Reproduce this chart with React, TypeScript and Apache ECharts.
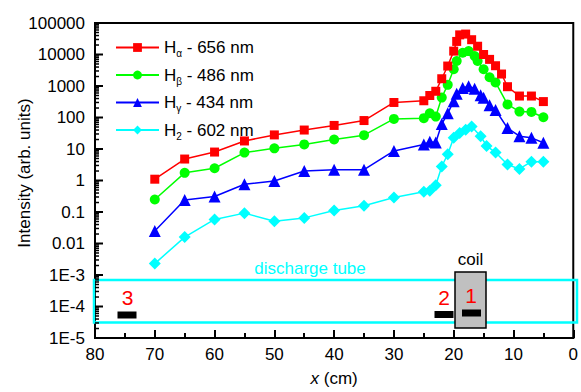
import React, { useEffect, useRef } from "react";
import * as echarts from "echarts";

const FONT = "'Liberation Sans', Arial, sans-serif";

// Series names (the second character is drawn as a subscript in the legend)
const SERIES_NAMES = ["Hα - 656 nm", "Hβ - 486 nm", "Hγ - 434 nm", "H2 - 602 nm"];
const SERIES_COLORS = ["#ff0000", "#00ff00", "#0000ff", "#00ffff"];
const SERIES_SYMBOLS = ["rect", "circle", "triangle", "diamond"];
const SERIES_SYMBOL_SIZES = [9, 10, 12, 12];

// Position along the tube (cm) and measured intensity (arb. units)
const H_ALPHA_X = [70, 65, 60, 55, 50, 45, 40, 35, 30, 25, 24, 23, 22, 21, 20, 19.5, 19, 18, 17, 16, 15, 14, 13, 12, 11, 9, 7, 5];
const H_ALPHA_Y = [1.1, 4.8, 8, 18, 28, 40, 56, 80, 300, 340, 500, 680, 1700, 4300, 12800, 26000, 42000, 44500, 29500, 18300, 10000, 7000, 4400, 2400, 950, 480, 480, 320];

const H_BETA_X = [70, 65, 60, 55, 50, 45, 40, 35, 30, 25, 24, 23, 22, 21, 20, 19.5, 18.5, 17.5, 16.5, 16, 15, 14, 13, 11, 9, 7, 5];
const H_BETA_Y = [0.25, 1.75, 2.45, 7.7, 10.5, 14, 20, 27.5, 90, 95, 136, 107, 430, 1090, 3400, 6200, 11400, 12800, 8900, 6200, 3400, 1900, 1300, 260, 154, 150, 102];

const H_GAMMA_X = [70, 65, 60, 55, 50, 45, 40, 35, 30, 25, 24, 23, 22, 21, 20, 19.5, 18.5, 17.5, 16.5, 15.5, 15, 14, 13, 11, 9, 7, 5];
const H_GAMMA_Y = [0.025, 0.24, 0.31, 0.76, 0.96, 2.0, 2.2, 2.2, 8.7, 14, 17, 16, 62, 136, 330, 570, 860, 990, 820, 506, 420, 247, 173, 46, 25.6, 22.6, 15.8];

const H2_X = [70, 65, 60, 55, 50, 45, 40, 35, 30, 25, 24, 23, 22, 21, 20, 19, 18, 17, 15.5, 14.5, 13, 11, 9, 7, 5];
const H2_Y = [0.0023, 0.016, 0.058, 0.092, 0.051, 0.065, 0.112, 0.157, 0.29, 0.44, 0.47, 0.71, 2.8, 6.8, 22.6, 32, 41, 52, 25.6, 12.5, 7.7, 3.2, 2.33, 3.96, 3.96];

const SERIES_X = [H_ALPHA_X, H_BETA_X, H_GAMMA_X, H2_X];
const SERIES_Y = [H_ALPHA_Y, H_BETA_Y, H_GAMMA_Y, H2_Y];

// Axis ticks
const X_MIN = 0;
const X_MAX = 80;
const X_INTERVAL = 10;
const Y_MIN = 1e-5;
const Y_MAX = 1e5;
const Y_DECADES = [1e-5, 1e-4, 1e-3, 0.01, 0.1, 1, 10, 100, 1000, 10000, 100000];
const Y_MINOR: number[] = [];
for (let i = 0; i < Y_DECADES.length - 1; i++) {
  for (let m = 2; m <= 9; m++) Y_MINOR.push(+(Y_DECADES[i] * m).toPrecision(3));
}

function formatDecade(v: number): string {
  const e = Math.round(Math.log10(v));
  if (e <= -3) return "1E" + e;
  if (e < 0) return (10 ** e).toFixed(-e);
  return String(10 ** e);
}

function legendLabel(name: string): string {
  return `{m|H}{s|${name[1]}}{m|${name.slice(2)}}`;
}

export default function App() {
  const ref = useRef<HTMLDivElement>(null);

  useEffect(() => {
    const chart = echarts.init(ref.current!, null, { renderer: "svg" });

    const series: any[] = SERIES_NAMES.map((name, k) => ({
      name,
      type: "line",
      data: SERIES_X[k].map((x, i) => [x, SERIES_Y[k][i]]),
      symbol: SERIES_SYMBOLS[k],
      symbolSize: SERIES_SYMBOL_SIZES[k],
      itemStyle: { color: SERIES_COLORS[k] },
      lineStyle: { color: SERIES_COLORS[k], width: 1.5 },
      z: 10 - k,
    }));

    // Inward log ticks on the left axis: long at each decade, short at 2..9
    series.push({
      type: "custom",
      silent: true,
      clip: false,
      z: 20,
      data: [
        ...Y_DECADES.map((v) => [X_MAX, v, 8]),
        ...Y_MINOR.map((v) => [X_MAX, v, 4]),
      ],
      renderItem: (params: any, api: any) => {
        const p = api.coord([api.value(0), api.value(1)]);
        const len = api.value(2);
        return {
          type: "line",
          shape: { x1: p[0], y1: p[1], x2: p[0] + len, y2: p[1] },
          style: { stroke: "#000", lineWidth: len > 5 ? 2 : 1.5 },
        };
      },
    });

    const axisLineStyle = { color: "#000", width: 2 };

    chart.setOption({
      animation: false,
      textStyle: { fontFamily: FONT },
      grid: {
        left: 95,
        right: 4,
        top: 23,
        bottom: 48,
        show: true,
        borderColor: "#000",
        borderWidth: 2,
        backgroundColor: "transparent",
      },
      legend: {
        data: SERIES_NAMES,
        orient: "vertical",
        left: 110,
        top: 34,
        itemWidth: 43,
        itemHeight: 11,
        itemGap: 8,
        selectedMode: false,
        formatter: legendLabel,
        textStyle: {
          color: "#000",
          fontSize: 17,
          fontFamily: FONT,
          rich: {
            m: { fontSize: 17, lineHeight: 22, fontFamily: FONT, color: "#000" },
            s: { fontSize: 10, lineHeight: 8, verticalAlign: "bottom", fontFamily: FONT, color: "#000" },
          },
        },
      },
      xAxis: {
        type: "value",
        min: X_MIN,
        max: X_MAX,
        interval: X_INTERVAL,
        inverse: true,
        axisLine: { onZero: false, lineStyle: axisLineStyle },
        axisTick: { inside: true, length: 8, lineStyle: axisLineStyle },
        minorTick: { show: true, splitNumber: 2, length: 5, lineStyle: axisLineStyle },
        splitLine: { show: false },
        minorSplitLine: { show: false },
        axisLabel: { color: "#000", fontSize: 17, margin: 8, fontFamily: FONT },
        name: "{i|x} (cm)",
        nameLocation: "middle",
        nameGap: 32,
        nameTextStyle: {
          color: "#000",
          fontSize: 17,
          fontFamily: FONT,
          rich: { i: { fontStyle: "italic", fontSize: 17, fontFamily: FONT, color: "#000" } },
        },
      },
      yAxis: {
        type: "log",
        logBase: 10,
        min: Y_MIN,
        max: Y_MAX,
        position: "left",
        axisLine: { onZero: false, lineStyle: axisLineStyle },
        axisTick: { show: false },
        axisLabel: {
          color: "#000",
          fontSize: 17,
          margin: 10,
          fontFamily: FONT,
          customValues: Y_DECADES,
          formatter: (v: number) => formatDecade(v),
        },
        splitLine: { show: false },
      },
      graphic: [
        {
          type: "text",
          x: 24,
          y: 173,
          rotation: Math.PI / 2,
          style: {
            text: "Intensity (arb. units)",
            fontSize: 17,
            fontFamily: FONT,
            fill: "#000",
            align: "center",
            verticalAlign: "middle",
          },
        },
        // discharge tube outline and caption
        {
          type: "rect",
          shape: { x: 94, y: 280, width: 483, height: 42.5 },
          style: { fill: "none", stroke: "#00ffff", lineWidth: 2.5 },
          z: 5,
        },
        {
          type: "text",
          x: 310,
          y: 268,
          style: {
            text: "discharge tube",
            fontSize: 17,
            fontFamily: FONT,
            fill: "#00ffff",
            align: "center",
            verticalAlign: "middle",
          },
        },
        // coil
        {
          type: "rect",
          shape: { x: 455, y: 272, width: 31, height: 56 },
          style: { fill: "#c0c0c0", stroke: "#000", lineWidth: 1.5 },
          z: 6,
        },
        {
          type: "text",
          x: 470.5,
          y: 259,
          style: { text: "coil", fontSize: 17, fontFamily: FONT, fill: "#000", align: "center", verticalAlign: "middle" },
        },
        // probe positions
        { type: "rect", shape: { x: 462, y: 309.5, width: 19, height: 7 }, style: { fill: "#000" }, z: 7 },
        { type: "rect", shape: { x: 434.5, y: 311, width: 19, height: 7 }, style: { fill: "#000" }, z: 7 },
        { type: "rect", shape: { x: 117.5, y: 311.5, width: 19, height: 7 }, style: { fill: "#000" }, z: 7 },
        {
          type: "text",
          x: 471,
          y: 295,
          z: 7,
          style: { text: "1", fontSize: 21, fontFamily: FONT, fill: "#ff0000", align: "center", verticalAlign: "middle" },
        },
        {
          type: "text",
          x: 444,
          y: 297,
          z: 7,
          style: { text: "2", fontSize: 21, fontFamily: FONT, fill: "#ff0000", align: "center", verticalAlign: "middle" },
        },
        {
          type: "text",
          x: 127.5,
          y: 297.5,
          z: 7,
          style: { text: "3", fontSize: 21, fontFamily: FONT, fill: "#ff0000", align: "center", verticalAlign: "middle" },
        },
      ],
      series,
    });

    return () => chart.dispose();
  }, []);

  return <div ref={ref} style={{ position: "absolute", left: 0, top: 0, width: 581, height: 392 }} />;
}
